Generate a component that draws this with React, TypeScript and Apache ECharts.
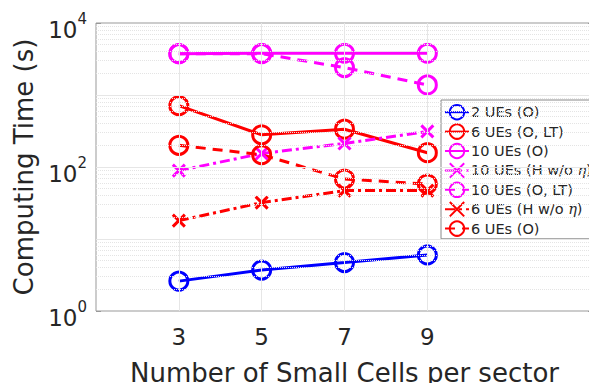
import React, { useEffect, useRef } from "react";
import * as echarts from "echarts";

const cells = [3, 5, 7, 9];
const ue2O = [2.6, 3.7, 4.7, 6.0];
const ue6OLT = [710, 280, 335, 158];
const ue10O = [3750, 3800, 3800, 3800];
const ue10H = [89, 154, 212, 312];
const ue10OLT = [3750, 3750, 2400, 1380];
const ue6H = [18, 32, 47, 47];
const ue6O = [200, 148, 68, 58];
const xTicks = [3, 5, 7, 9];
const decades = [1, 10, 100, 1000];
const majorLines = [10, 100, 1000];

const BLUE = "#0000ff";
const RED = "#ff0000";
const MAG = "#ff00ff";
const XSYM = "path://M0 0L10 10M10 0L0 10";

function mk(name: string, vals: number[], color: string, kind: "solid" | "dashed" | "dashdot", sym: "o" | "x", z: number) {
  const dash = kind === "solid" ? "solid" : kind === "dashed" ? [10, 7] : [10, 4, 3, 4];
  return {
    name,
    type: "line",
    z,
    color,
    data: cells.map((c, i) => [c, vals[i]]),
    symbol: sym === "o" ? "circle" : XSYM,
    symbolSize: sym === "o" ? 18 : 12,
    showAllSymbol: true,
    lineStyle: { color, width: 3, type: dash },
    itemStyle: {
      color: sym === "o" ? "rgba(255,255,255,0)" : color,
      borderColor: color,
      borderWidth: 3,
    },
    emphasis: { disabled: true },
  };
}

export default function App() {
  const ref = useRef<HTMLDivElement>(null);
  useEffect(() => {
    const chart = echarts.init(ref.current!, null, { renderer: "svg" });
    const minorVals: number[] = [];
    decades.forEach((d) => {
      for (let k = 2; k <= 9; k++) minorVals.push(d * k);
    });
    const textColor = "#262626";
    const font = "DejaVu Sans, sans-serif";
    const tickStyle = { color: "#999999", width: 1 };
    const series: any[] = [
      {
        name: "grid",
        type: "line",
        z: 1,
        data: [],
        silent: true,
        markLine: {
          silent: true,
          symbol: "none",
          label: { show: false },
          animation: false,
          data: [
            ...minorVals.map((v) => ({ yAxis: v, lineStyle: { color: "#e4e4e4", width: 1, type: [1, 1] } })),
            ...majorLines.map((v) => ({ yAxis: v, lineStyle: { color: "#e6e6e6", width: 1, type: "solid" } })),
            ...xTicks.map((v) => ({ xAxis: v, lineStyle: { color: "#e6e6e6", width: 1, type: "solid" } })),
          ],
        },
      },
      mk("2 UEs (O)", ue2O, BLUE, "solid", "o", 3),
      mk("6 UEs (O, LT)", ue6OLT, RED, "solid", "o", 3),
      mk("10 UEs (O)", ue10O, MAG, "solid", "o", 3),
      mk("10 UEs (H w/o η)", ue10H, MAG, "dashdot", "x", 3),
      mk("10 UEs (O, LT)", ue10OLT, MAG, "dashed", "o", 3),
      mk("6 UEs (H w/o η)", ue6H, RED, "dashdot", "x", 3),
      mk("6 UEs (O)", ue6O, RED, "dashed", "o", 3),
    ];
    chart.setOption({
      animation: false,
      grid: {
        left: 96,
        right: 4,
        top: 23,
        bottom: 77,
        show: true,
        borderColor: "#999999",
        borderWidth: 1,
        backgroundColor: "#ffffff",
      },
      legend: {
        data: [
          "2 UEs (O)",
          "6 UEs (O, LT)",
          "10 UEs (O)",
          "10 UEs (H w/o η)",
          "10 UEs (O, LT)",
          "6 UEs (H w/o η)",
          "6 UEs (O)",
        ],
        orient: "vertical",
        left: 441,
        top: 100,
        itemWidth: 24,
        itemHeight: 18,
        itemGap: 3,
        padding: [4, 2, 2, 3],
        backgroundColor: "#ffffff",
        borderColor: "#888888",
        borderWidth: 1,
        borderRadius: 0,
        textStyle: {
          fontFamily: font,
          fontSize: 14.5,
          color: textColor,
          padding: [0, 0, 0, -3],
          rich: {
            i: { fontFamily: "DejaVu Serif, serif", fontStyle: "italic", fontSize: 14.5, color: textColor },
          },
        },
        formatter: (n: string) => n.replace("η", "{i|η}"),
      },
      xAxis: [
        {
          type: "value",
          min: 1,
          max: 13,
          interval: 2,
          name: "Number of Small Cells per sector",
          nameLocation: "middle",
          nameGap: 49,
          nameTextStyle: { fontFamily: font, fontSize: 26, color: textColor },
          axisLine: { show: false },
          splitLine: { show: false },
          axisTick: { show: true, inside: true, length: 5, lineStyle: tickStyle, customValues: xTicks },
          axisLabel: {
            fontFamily: font,
            fontSize: 23,
            color: textColor,
            margin: 14,
            customValues: xTicks,
            formatter: (v: number) => (xTicks.indexOf(v) >= 0 ? String(v) : ""),
          },
        },
        {
          type: "value",
          position: "top",
          min: 1,
          max: 13,
          interval: 2,
          axisLine: { show: false },
          splitLine: { show: false },
          axisTick: { show: true, inside: true, length: 5, lineStyle: tickStyle, customValues: xTicks },
          axisLabel: { show: false },
        },
      ],
      yAxis: [
        {
          type: "log",
          logBase: 10,
          min: 1,
          max: 10000,
          name: "Computing Time (s)",
          nameLocation: "middle",
          nameGap: 53,
          nameTextStyle: { fontFamily: font, fontSize: 26, color: textColor },
          axisLine: { show: false },
          splitLine: { show: false },
          axisTick: { show: true, inside: true, length: 5, lineStyle: tickStyle },
          axisLabel: {
            fontFamily: font,
            color: textColor,
            margin: 9,
            formatter: (v: number) => {
              const e = Math.round(Math.log10(v));
              return e % 2 === 0 ? "{b|10}{s|" + e + "}" : "";
            },
            rich: {
              b: { fontSize: 23, fontFamily: font, color: textColor, padding: [13, 0, 0, 0] },
              s: { fontSize: 15, fontFamily: font, color: textColor, verticalAlign: "top", padding: [6, 0, 0, 0] },
            },
          },
        },
        {
          type: "log",
          logBase: 10,
          min: 1,
          max: 10000,
          position: "right",
          axisLine: { show: false },
          splitLine: { show: false },
          axisTick: { show: true, inside: true, length: 5, lineStyle: tickStyle },
          axisLabel: { show: false },
        },
      ],
      series,
    });
    return () => chart.dispose();
  }, []);
  return <div ref={ref} style={{ width: 597, height: 391, margin: -8 }} />;
}
